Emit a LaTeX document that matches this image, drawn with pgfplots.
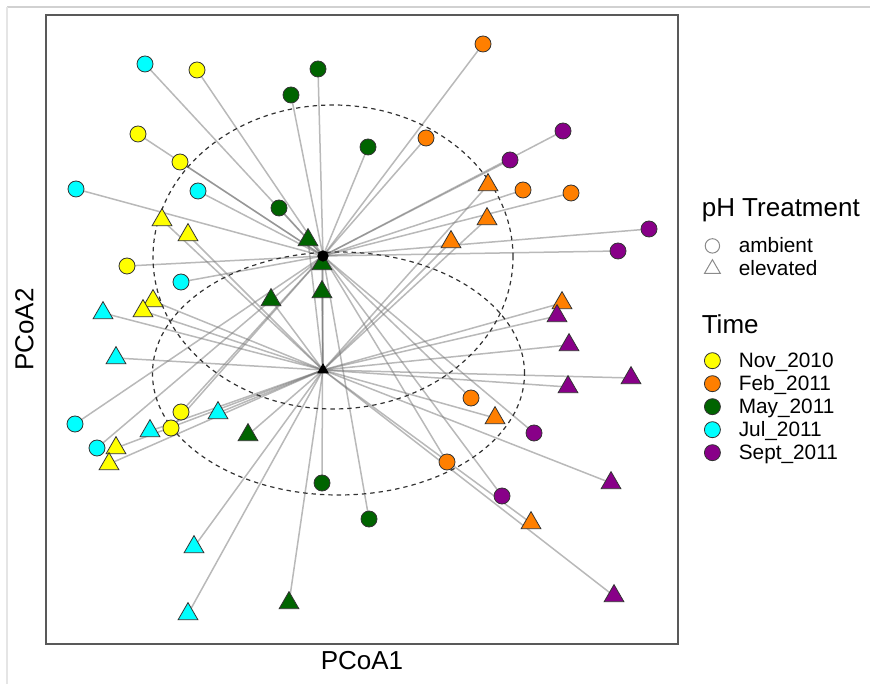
\documentclass[border=0pt]{standalone}
\usepackage{fontspec}
\setmainfont{Liberation Sans}
\usepackage{pgfplots}
\pgfplotsset{compat=1.18}
\usepackage{pgfplotstable}
\definecolor{cNov}{HTML}{FFFF00}
\definecolor{cFeb}{HTML}{FF7F00}
\definecolor{cMay}{HTML}{006400}
\definecolor{cJul}{HTML}{00FFFF}
\definecolor{cSep}{HTML}{880088}

% ambient (circles), pixel-like units
\pgfplotstableread{
x y
197 614
138 550
180 522
127 418
181 272
171 256
}\aNov
\pgfplotstableread{
x y
483 640
426 546
523 494
571 491
471 286
447 222
}\aFeb
\pgfplotstableread{
x y
318 615
291 589
279 476
368 537
322 201
369 165
}\aMay
\pgfplotstableread{
x y
145 620
76 495
198 493
181 402
75 260
97 236
}\aJul
\pgfplotstableread{
x y
563 553
510 524
649 455
618 433
534 251
502 188
}\aSep
% elevated (triangles)
\pgfplotstableread{
x y
162 464
188 449
153 383
143 373
116 236
109 220
}\eNov
\pgfplotstableread{
x y
488 499
487 465
451 442
562 381
495 266
531 161
}\eFeb
\pgfplotstableread{
x y
308 444
322 420
322 392
271 384
248 249
289 81
}\eMay
\pgfplotstableread{
x y
103 371
116 326
218 271
150 253
194 137
188 70
}\eJul
\pgfplotstableread{
x y
557 368
569 339
631 306
568 297
611 201
614 88
}\eSep

\newcommand{\spokes}[2]{\addplot[forget plot, spoke, quiver={u={323-\thisrow{x}}, v={#2-\thisrow{y}}}] table[x=x,y=y] {#1};}
\newcommand{\amarks}[2]{\addplot[forget plot, only marks, mark=*, mark size=4pt, mark options={fill=#2, draw=black!80, line width=0.4pt}] table[x=x,y=y] {#1};}
\newcommand{\emarks}[2]{\addplot[forget plot, only marks, mark=triangle*, mark size=5.7pt, mark options={fill=#2, draw=black!80, line width=0.4pt}] table[x=x,y=y] {#1};}

\begin{document}
\begin{tikzpicture}
\useasboundingbox (0pt,0pt) rectangle (435pt,342pt);
\draw[black!18, line width=0.6pt] (3.5pt,338.5pt) -- (435pt,338.5pt);
\draw[black!10, line width=0.6pt] (3.5pt,338.5pt) -- (3.5pt,0pt);
\begin{axis}[
  at={(23pt,20pt)}, anchor=south west,
  scale only axis, width=316pt, height=314.5pt,
  xmin=46, xmax=678, ymin=40, ymax=669,
  ticks=none,
  axis line style={black!65, line width=0.8pt},
  clip=false,
  spoke/.style={draw=black!55, opacity=0.5, line width=0.75pt, mark=none, -},
  xlabel={PCoA1}, ylabel={PCoA2},
  xlabel style={at={(axis cs:362,33)}, anchor=north, inner sep=0pt, font=\fontsize{13}{15}\selectfont},
  ylabel style={at={(axis cs:34,354.5)}, rotate=0, anchor=south, inner sep=0pt, font=\fontsize{13}{15}\selectfont},
  legend style={at={(axis cs:702,485.7)}, anchor=north west, draw=none, fill=none,
    inner sep=0pt, outer sep=0pt, row sep=0pt, column sep=0pt,
    nodes={inner sep=0pt, text depth=, text height=},
    cells={anchor=base west},
    font=\fontsize{10.4}{12}\selectfont},
  legend image code/.code={\draw[#1, yshift=3.4pt] plot coordinates {(0pt,0pt)}; \path (-5pt,0pt) (13pt,0pt);},
]
\addlegendimage{empty legend}
\addlegendentry{\fontsize{13}{15}\selectfont\hspace*{-18.5pt}\rule[-9.1pt]{0pt}{10pt}pH Treatment}
\addlegendimage{only marks, mark=o, mark size=3.6pt, mark options={draw=black!45, line width=0.5pt}}
\addlegendentry{\rule[-2.35pt]{0pt}{11.5pt}ambient}
\addlegendimage{only marks, mark=triangle, mark size=4.6pt, mark options={draw=black!45, line width=0.5pt}}
\addlegendentry{\rule[-2.35pt]{0pt}{11.5pt}elevated}
\addlegendimage{empty legend}
\addlegendentry{\fontsize{13}{15}\selectfont\hspace*{-18.5pt}\rule[-7.6pt]{0pt}{34.4pt}Time}
\addlegendimage{only marks, mark=*, mark size=4pt, mark options={fill=cNov, draw=black!80, line width=0.4pt}}
\addlegendentry{\rule[-2.35pt]{0pt}{11.5pt}Nov\_2010}
\addlegendimage{only marks, mark=*, mark size=4pt, mark options={fill=cFeb, draw=black!80, line width=0.4pt}}
\addlegendentry{\rule[-2.35pt]{0pt}{11.5pt}Feb\_2011}
\addlegendimage{only marks, mark=*, mark size=4pt, mark options={fill=cMay, draw=black!80, line width=0.4pt}}
\addlegendentry{\rule[-2.35pt]{0pt}{11.5pt}May\_2011}
\addlegendimage{only marks, mark=*, mark size=4pt, mark options={fill=cJul, draw=black!80, line width=0.4pt}}
\addlegendentry{\rule[-2.35pt]{0pt}{11.5pt}Jul\_2011}
\addlegendimage{only marks, mark=*, mark size=4pt, mark options={fill=cSep, draw=black!80, line width=0.4pt}}
\addlegendentry{\rule[-2.35pt]{0pt}{11.5pt}Sept\_2011}

% spokes to group centroids
\spokes{\aNov}{428}\spokes{\aFeb}{428}\spokes{\aMay}{428}\spokes{\aJul}{428}\spokes{\aSep}{428}
\spokes{\eNov}{314}\spokes{\eFeb}{314}\spokes{\eMay}{314}\spokes{\eJul}{314}\spokes{\eSep}{314}
% points
\amarks{\aNov}{cNov}\amarks{\aFeb}{cFeb}\amarks{\aMay}{cMay}\amarks{\aJul}{cJul}\amarks{\aSep}{cSep}
\emarks{\eNov}{cNov}\emarks{\eFeb}{cFeb}\emarks{\eMay}{cMay}\emarks{\eJul}{cJul}\emarks{\eSep}{cSep}
% dispersion ellipses
\draw[black!80, line width=0.6pt, dash pattern=on 2.2pt off 2pt] (axis cs:333,427) ellipse [x radius=180, y radius=152];
\draw[black!80, line width=0.6pt, dash pattern=on 2.2pt off 2pt] (axis cs:338.5,310.5) ellipse [x radius=186, y radius=121.5];
% centroids
\addplot[forget plot, only marks, mark=*, mark size=2.6pt, black] coordinates {(323,428)};
\addplot[forget plot, only marks, mark=triangle*, mark size=3pt, black] coordinates {(323,314)};
\end{axis}
\end{tikzpicture}
\end{document}
